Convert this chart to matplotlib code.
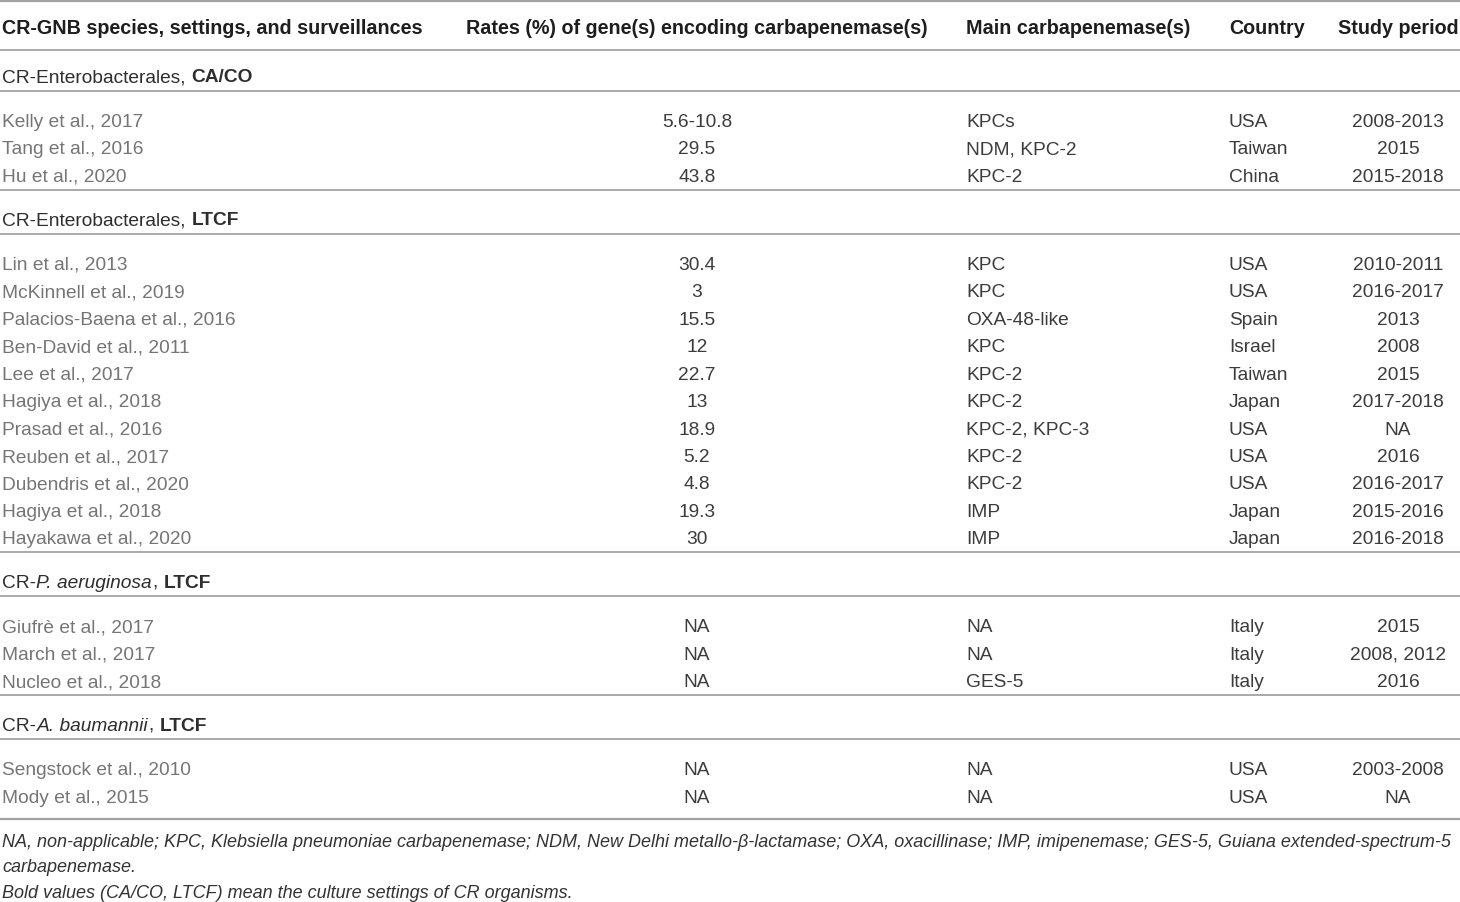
import matplotlib
matplotlib.use("Agg")
import matplotlib.pyplot as plt

# ---------------- data ----------------
headers = ["CR-GNB species, settings, and surveillances",
           "Rates (%) of gene(s) encoding carbapenemase(s)",
           "Main carbapenemase(s)", "Country", "Study period"]

# group titles as (text, weight, style) pieces
group_titles = [
    [("CR-Enterobacterales,", "normal", "normal"), (" ", "normal", "normal"), ("CA/CO", "bold", "normal")],
    [("CR-Enterobacterales,", "normal", "normal"), (" ", "normal", "normal"), ("LTCF", "bold", "normal")],
    [("CR-", "normal", "normal"), ("P. aeruginosa", "normal", "italic"), (",", "normal", "normal"),
     (" ", "normal", "normal"), ("LTCF", "bold", "normal")],
    [("CR-", "normal", "normal"), ("A. baumannii", "normal", "italic"), (",", "normal", "normal"),
     (" ", "normal", "normal"), ("LTCF", "bold", "normal")],
]
group_sizes = [3, 11, 3, 2]

studies = ["Kelly et al., 2017", "Tang et al., 2016", "Hu et al., 2020",
           "Lin et al., 2013", "McKinnell et al., 2019", "Palacios-Baena et al., 2016",
           "Ben-David et al., 2011", "Lee et al., 2017", "Hagiya et al., 2018",
           "Prasad et al., 2016", "Reuben et al., 2017", "Dubendris et al., 2020",
           "Hagiya et al., 2018", "Hayakawa et al., 2020",
           "Giufrè et al., 2017", "March et al., 2017", "Nucleo et al., 2018",
           "Sengstock et al., 2010", "Mody et al., 2015"]
rates = ["5.6-10.8", "29.5", "43.8",
         "30.4", "3", "15.5", "12", "22.7", "13", "18.9", "5.2", "4.8", "19.3", "30",
         "NA", "NA", "NA",
         "NA", "NA"]
carbapenemases = ["KPCs", "NDM, KPC-2", "KPC-2",
                  "KPC", "KPC", "OXA-48-like", "KPC", "KPC-2", "KPC-2", "KPC-2, KPC-3",
                  "KPC-2", "KPC-2", "IMP", "IMP",
                  "NA", "NA", "GES-5",
                  "NA", "NA"]
countries = ["USA", "Taiwan", "China",
             "USA", "USA", "Spain", "Israel", "Taiwan", "Japan", "USA", "USA", "USA",
             "Japan", "Japan",
             "Italy", "Italy", "Italy",
             "USA", "USA"]
periods = ["2008-2013", "2015", "2015-2018",
           "2010-2011", "2016-2017", "2013", "2008", "2015", "2017-2018", "NA", "2016",
           "2016-2017", "2015-2016", "2016-2018",
           "2015", "2008, 2012", "2016",
           "2003-2008", "NA"]

footnotes = [
    "NA, non-applicable; KPC, Klebsiella pneumoniae carbapenemase; NDM, New Delhi metallo-\u03b2-lactamase; "
    "OXA, oxacillinase; IMP, imipenemase; GES-5, Guiana extended-spectrum-5",
    "carbapenemase.",
    "Bold values (CA/CO, LTCF) mean the culture settings of CR organisms.",
]

# ---------------- layout ----------------
W, H = 1460, 903
FONT = "Liberation Sans"
FS = 13.75
HFS = 14.2
HEAD_C = "#1e1e1e"
TITLE_C = "#2e2e2e"
STUDY_C = "#757575"
DATA_C = "#3c3c3c"
FOOT_C = "#333333"
LINE_C = "#a3a3a3"
DY = 2.0  # vertical text nudge

plt.rcParams["font.family"] = [FONT, "DejaVu Sans"]
fig = plt.figure(figsize=(W / 100, H / 100), dpi=100)
ax = fig.add_axes([0, 0, 1, 1])
ax.set_xlim(0, W)
ax.set_ylim(H, 0)
ax.axis("off")
renderer = fig.canvas.get_renderer()

col_x = [2, 697, 966, 1229, 1398]
col_ha = ["left", "center", "left", "left", "center"]
col_c = [STUDY_C, DATA_C, DATA_C, DATA_C, DATA_C]


def hline(y, lw=1.3):
    ax.plot([0, W], [y, y], color=LINE_C, lw=lw, solid_capstyle="butt")


def space_width(fs):
    a = ax.text(0, 0, "a a", fontsize=fs)
    b = ax.text(0, 0, "aa", fontsize=fs)
    w = a.get_window_extent(renderer).width - b.get_window_extent(renderer).width
    a.remove(); b.remove()
    return w


def rich(x, y, pieces, color):
    for s, weight, style in pieces:
        if s == " ":
            x += space_width(FS)
            continue
        t = ax.text(x, y, s, fontsize=FS, fontweight=weight, fontstyle=style,
                    color=color, ha="left", va="center")
        x += t.get_window_extent(renderer).width + 0.5


# top line + header
hline(1.5, lw=1.6)
hx = [2, 697, 966, 1229, 1338]
hha = ["left", "center", "left", "left", "left"]
for x, ha, h in zip(hx, hha, headers):
    ax.text(x, 27 + DY, h, fontsize=HFS, fontweight="bold", color=HEAD_C, ha=ha, va="center")
line_y = 51
hline(line_y)

ROW = 27.45
idx = 0
for gi, (title, n) in enumerate(zip(group_titles, group_sizes)):
    t_off, l_off = (25, 41) if gi == 0 else (28, 44)
    rich(2, line_y + t_off + DY, title, TITLE_C)
    line_y += l_off
    hline(line_y)
    y0 = line_y + 28.5
    for k in range(n):
        y = y0 + k * ROW + DY
        vals = [studies[idx], rates[idx], carbapenemases[idx], countries[idx], periods[idx]]
        for x, ha, c, v in zip(col_x, col_ha, col_c, vals):
            ax.text(x, y, v, fontsize=FS, color=c, ha=ha, va="center")
        idx += 1
    last = y0 + (n - 1) * ROW
    if gi < len(group_sizes) - 1:
        line_y = last + 15.5
    else:
        line_y = last + 24
    hline(line_y, lw=1.3 if gi < len(group_sizes) - 1 else 1.6)

# footnotes: fit first line to the table width
probe = ax.text(0, 0, footnotes[0], fontsize=FS, fontstyle="italic")
fw = probe.get_window_extent(renderer).width
probe.remove()
FFS = FS * 1454.0 / fw
for fy, txt in zip([841, 866, 892], footnotes):
    ax.text(2, fy + DY, txt, fontsize=FFS, fontstyle="italic", color=FOOT_C, ha="left", va="center")

fig.savefig("out.png", dpi=100)
